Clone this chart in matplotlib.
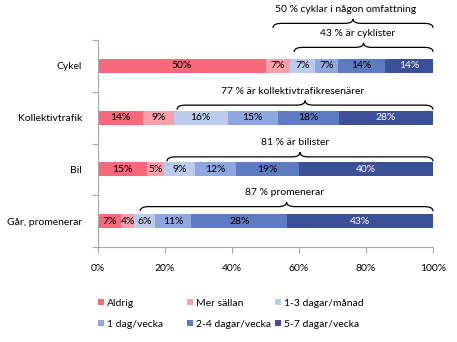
import matplotlib
matplotlib.use("Agg")
import matplotlib.pyplot as plt
from matplotlib.path import Path
from matplotlib.patches import PathPatch
import numpy as np

plt.rcParams['font.family'] = ['Lato', 'DejaVu Sans']

categories = ["Cykel", "Kollektivtrafik", "Bil", "Går, promenerar"]
series = ["Aldrig", "Mer sällan", "1-3 dagar/månad", "1 dag/vecka", "2-4 dagar/vecka", "5-7 dagar/vecka"]
aldrig      = [50.2, 13.5, 14.7, 7.0]
mer_sallan  = [7.2, 9.2, 5.1, 4.0]
dagar_manad = [7.4, 16.1, 9.3, 6.1]
dag_vecka   = [7.0, 15.0, 12.1, 10.9]
dagar_2_4   = [13.9, 18.2, 18.9, 28.6]
dagar_5_7   = [14.3, 28.0, 39.9, 43.4]
labels = [
    ["50%", "7%", "7%", "7%", "14%", "14%"],
    ["14%", "9%", "16%", "15%", "18%", "28%"],
    ["15%", "5%", "9%", "12%", "19%", "40%"],
    ["7%", "4%", "6%", "11%", "28%", "43%"],
]
brace_cat = [0, 0, 1, 2, 3]
brace_start = [52.3, 58.6, 23.7, 20.7, 12.7]
brace_end = [100, 100, 100, 100, 100]
brace_text = ["50 % cyklar i någon omfattning", "43 % är cyklister",
              "77 % är kollektivtrafikresenärer", "81 % är bilister", "87 % promenerar"]

colors = ["#F6687A", "#F6A0A9", "#BCCAEC", "#8FA6DF", "#5E7BC1", "#3C5098"]
values = [aldrig, mer_sallan, dagar_manad, dag_vecka, dagar_2_4, dagar_5_7]

fig = plt.figure(figsize=(4.57, 3.42), dpi=100)
ax = fig.add_axes([97.5/457, 1-247/342, (433-97.5)/457, (247-40)/342])

y = np.arange(len(categories))
left = np.zeros(len(categories))
bars = []
for i, (vals, col, name) in enumerate(zip(values, colors, series)):
    vals = np.array(vals)
    b = ax.barh(y, vals, left=left, height=0.27, color=col, label=name, edgecolor='none')
    bars.append(b)
    for j in range(len(categories)):
        ax.text(left[j] + vals[j]/2, y[j], labels[j][i], ha='center', va='center',
                fontsize=7.5, color='white' if i == 5 else 'black')
    left = left + vals

ax.set_xlim(0, 100)
ax.set_ylim(3.5, -0.5)
ax.set_xticks(np.arange(0, 101, 20))
ax.set_xticklabels([f"{v}%" for v in range(0, 101, 20)], fontsize=7.5)
ax.set_yticks(np.arange(-0.5, 4.0, 1.0))
ax.set_yticklabels([])
ax.set_yticks(y, minor=True)
ax.set_yticklabels(categories, minor=True, fontsize=7.5)
ax.tick_params(axis='y', which='minor', length=0, pad=11)
ax.tick_params(axis='y', which='major', length=4, color='#A6A6A6')
ax.tick_params(axis='x', length=4, color='#A6A6A6', pad=8.5)
for s in ['top', 'right']:
    ax.spines[s].set_visible(False)
for s in ['left', 'bottom']:
    ax.spines[s].set_color('#A6A6A6')
    ax.spines[s].set_linewidth(0.8)

px = 51.75  # pixels per category unit
def brace(cat, x0, x1, tip_px, text, text_x=None):
    yc = cat
    tip = yc - tip_px/px
    line = tip - 4.5/px
    peak = line - 4.5/px
    r = 2.5
    xm = (x0 + x1)/2
    verts = [(x0, tip), (x0, line), (x0 + r, line), (xm - r, line),
             (xm, line), (xm, peak), (xm, line), (xm + r, line),
             (x1 - r, line), (x1, line), (x1, tip)]
    codes = [Path.MOVETO, Path.CURVE3, Path.CURVE3, Path.LINETO,
             Path.CURVE3, Path.CURVE3, Path.CURVE3, Path.CURVE3,
             Path.LINETO, Path.CURVE3, Path.CURVE3]
    ax.add_patch(PathPatch(Path(verts, codes), fill=False, lw=0.9, ec='black', clip_on=False))
    ax.text(xm if text_x is None else text_x, peak - 5/px, text, ha='center', va='bottom',
            fontsize=7.5, clip_on=False)

tips = [38, 14, 8, 8, 10]
text_x = [73.9, 77.5, 58.1, 59.0, 55.9]
for c, a, b_, t, tx, txt in zip(brace_cat, brace_start, brace_end, tips, text_x, brace_text):
    brace(c, a, b_, t, txt, tx)

# legend: three columns, row-major order as in reference
col_x = [98/457, 187/457, 275/457]
for k in range(3):
    h = [bars[k], bars[k+3]]
    leg = fig.legend(h, [series[k], series[k+3]], loc='upper left',
                     bbox_to_anchor=(col_x[k], 1-299/342), frameon=False, fontsize=7.5,
                     handlelength=0.55, handleheight=0.55, handletextpad=0.3,
                     labelspacing=1.15, borderpad=0, borderaxespad=0)

fig.savefig("out.png", dpi=100)
